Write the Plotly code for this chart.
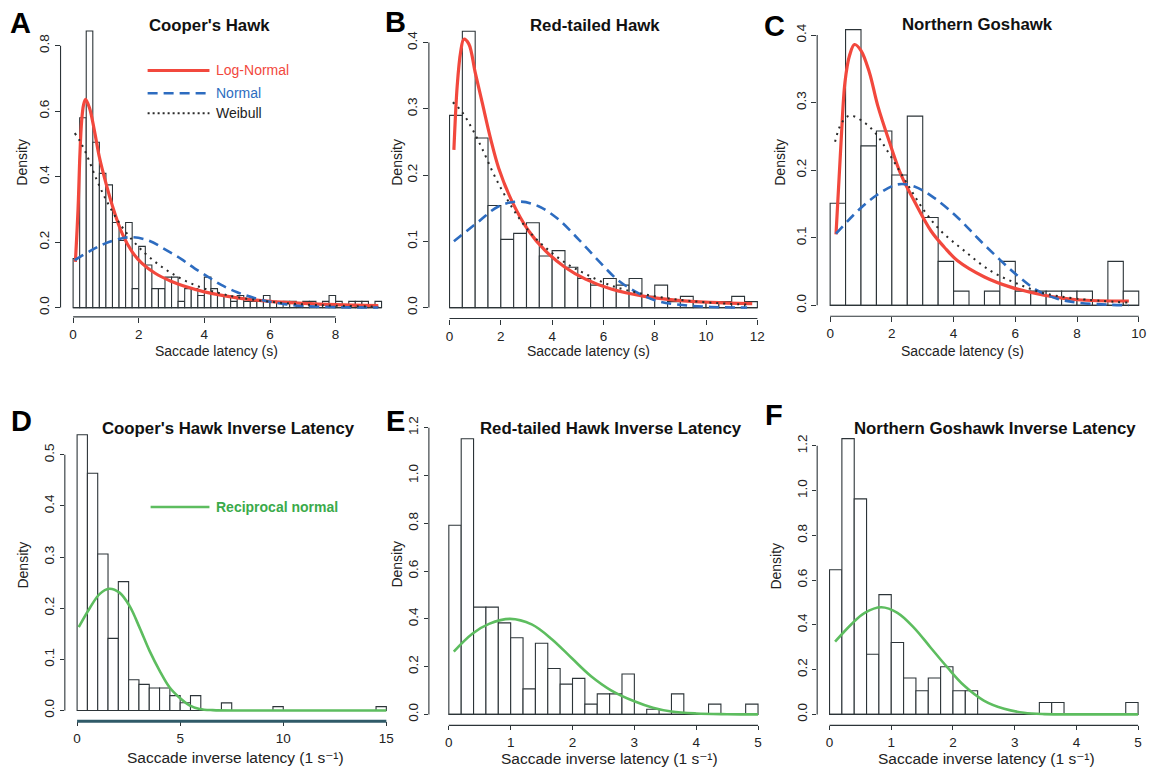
import plotly.graph_objects as go

W, H = 1156, 768

# ------------------------------------------------------------------ data
# Histograms (density per bin, bins start at 0)
coopers_bin_width = 0.2
coopers_density = [0.15, 0.58, 0.845, 0.505, 0.41, 0.375, 0.26, 0.205, 0.26, 0.058,
                   0.187, 0.13, 0.058, 0.058, 0.093, 0.093, 0.019, 0.058, 0.058, 0.037,
                   0.093, 0.058, 0.037, 0.037, 0.019, 0.037, 0.019, 0.019, 0.019, 0.037,
                   0.019, 0.0, 0.019, 0.019, 0.0, 0.019, 0.019, 0.0, 0.019, 0.037,
                   0.019, 0.0, 0.019, 0.019, 0.019, 0.0, 0.019]

redtail_bin_width = 0.5
redtail_density = [0.29, 0.417, 0.256, 0.154, 0.103, 0.112, 0.128, 0.078, 0.086, 0.061,
                   0.044, 0.034, 0.044, 0.034, 0.044, 0.017, 0.034, 0.009, 0.017, 0.009,
                   0.009, 0.009, 0.017, 0.009]

goshawk_bin_width = 0.5
goshawk_density = [0.151, 0.408, 0.236, 0.258, 0.193, 0.28, 0.13, 0.065, 0.021, 0.0,
                   0.021, 0.065, 0.021, 0.021, 0.021, 0.021, 0.021, 0.0, 0.065, 0.021]

coopers_inv_bin_width = 0.5
coopers_inv_density = [0.539, 0.464, 0.306, 0.141, 0.252, 0.06, 0.051, 0.044, 0.044, 0.029,
                       0.015, 0.029, 0.0, 0.0, 0.0148, 0.0, 0.0, 0.0, 0.0, 0.0074,
                       0.0, 0.0, 0.0, 0.0, 0.0, 0.0, 0.0, 0.0, 0.0, 0.0074]

redtail_inv_bin_width = 0.2
redtail_inv_density = [0.792, 1.154, 0.449, 0.449, 0.383, 0.321, 0.107, 0.298, 0.192, 0.127,
                       0.151, 0.043, 0.086, 0.086, 0.169, 0.0, 0.0215, 0.0, 0.086, 0.0,
                       0.0, 0.043, 0.0, 0.0, 0.043]

goshawk_inv_bin_width = 0.2
goshawk_inv_density = [0.646, 1.232, 0.963, 0.269, 0.535, 0.321, 0.163, 0.106, 0.163, 0.213,
                       0.106, 0.106, 0.0, 0.0, 0.0, 0.0, 0.0, 0.053, 0.053, 0.0,
                       0.0, 0.0, 0.0, 0.0, 0.053]

# Fitted curves
coopers_lognorm_x = [0.07, 0.15, 0.2, 0.26, 0.32, 0.38, 0.5, 0.65, 0.8, 1.0, 1.2, 1.5, 1.8, 2.1,
                     2.5, 3.0, 3.5, 4.0, 5.0, 6.0, 7.0, 8.0, 9.3]
coopers_lognorm_y = [0.14, 0.3, 0.45, 0.57, 0.62, 0.636, 0.61, 0.54, 0.46, 0.38, 0.31, 0.225, 0.17,
                     0.135, 0.105, 0.08, 0.062, 0.048, 0.03, 0.019, 0.013, 0.009, 0.006]
coopers_normal_x = [0.05, 0.5, 1.0, 1.5, 1.8, 2.3, 2.8, 3.3, 3.7, 4.1, 4.5, 5.0, 5.5, 6.0, 6.5,
                    7.0, 8.0, 9.3]
coopers_normal_y = [0.145, 0.172, 0.197, 0.212, 0.215, 0.205, 0.178, 0.148, 0.12, 0.095, 0.07,
                    0.047, 0.03, 0.018, 0.01, 0.005, 0.0015, 0.0003]
coopers_weibull_x = [0.05, 0.2, 0.4, 0.7, 1.0, 1.4, 1.8, 2.2, 2.6, 3.0, 3.5, 4.0, 4.5, 5.0, 6.0,
                     7.0, 8.0, 9.3]
coopers_weibull_y = [0.533, 0.51, 0.47, 0.395, 0.33, 0.26, 0.207, 0.165, 0.132, 0.105, 0.078,
                     0.058, 0.043, 0.032, 0.018, 0.01, 0.006, 0.003]

redtail_lognorm_x = [0.17, 0.3, 0.43, 0.56, 0.75, 1.0, 1.27, 1.6, 1.92, 2.44, 3.08, 3.73, 4.5,
                     5.3, 6.3, 7.6, 8.9, 10.2, 11.8]
redtail_lognorm_y = [0.238, 0.335, 0.385, 0.405, 0.398, 0.355, 0.31, 0.255, 0.21, 0.16, 0.116,
                     0.086, 0.061, 0.043, 0.028, 0.017, 0.011, 0.008, 0.006]
redtail_normal_x = [0.17, 1.14, 1.92, 2.7, 3.47, 4.25, 5.03, 5.8, 6.58, 7.36, 8.14, 9.17, 10.2, 11.6]
redtail_normal_y = [0.1, 0.13, 0.153, 0.16, 0.153, 0.133, 0.103, 0.071, 0.041, 0.022, 0.0095,
                    0.0035, 0.001, 0.0001]
redtail_weibull_x = [0.13, 0.49, 0.88, 1.27, 1.79, 2.44, 3.08, 3.73, 4.5, 5.29, 6.32, 7.62, 8.9,
                     10.2, 11.6]
redtail_weibull_y = [0.31, 0.295, 0.27, 0.24, 0.196, 0.151, 0.116, 0.091, 0.068, 0.051, 0.033,
                     0.02, 0.012, 0.0075, 0.0045]

goshawk_lognorm_x = [0.19, 0.36, 0.48, 0.63, 0.79, 1.0, 1.27, 1.54, 1.92, 2.3, 2.73, 3.27, 3.7,
                     4.13, 5.0, 5.85, 6.93, 8.0, 9.68]
goshawk_lognorm_y = [0.105, 0.247, 0.33, 0.37, 0.386, 0.377, 0.345, 0.296, 0.242, 0.193, 0.154,
                     0.11, 0.086, 0.066, 0.042, 0.027, 0.015, 0.0083, 0.0064]
goshawk_normal_x = [0.19, 0.9, 1.54, 2.19, 2.73, 3.37, 4.13, 4.77, 5.42, 6.07, 6.71, 7.36, 8.0,
                    9.0, 9.68]
goshawk_normal_y = [0.106, 0.14, 0.164, 0.179, 0.176, 0.159, 0.13, 0.1, 0.071, 0.044, 0.022,
                    0.0098, 0.004, 0.001, 0.0002]
goshawk_weibull_x = [0.16, 0.36, 0.63, 1.0, 1.43, 1.97, 2.51, 3.05, 3.59, 4.34, 5.2, 6.07, 6.93,
                     8.0, 9.68]
goshawk_weibull_y = [0.242, 0.269, 0.281, 0.274, 0.257, 0.22, 0.179, 0.14, 0.11, 0.081, 0.051,
                     0.032, 0.018, 0.0098, 0.004]

coopers_recip_x = [0.08, 0.61, 1.1, 1.55, 2.07, 2.55, 3.03, 3.52, 4.0, 4.49, 4.97, 5.45, 5.94,
                   6.58, 8.0, 10.0, 12.0, 15.0]
coopers_recip_y = [0.163, 0.2, 0.228, 0.238, 0.23, 0.204, 0.162, 0.116, 0.078, 0.045, 0.025,
                   0.01, 0.003, 0.0006, 0.0, 0.0, 0.0, 0.0]
redtail_recip_x = [0.08, 0.38, 0.65, 0.99, 1.34, 1.67, 1.99, 2.3, 2.63, 3.0, 3.3, 3.6, 4.0, 4.5, 5.0]
redtail_recip_y = [0.263, 0.338, 0.379, 0.4, 0.377, 0.314, 0.235, 0.16, 0.1, 0.055, 0.028, 0.012,
                   0.004, 0.001, 0.0]
goshawk_recip_x = [0.09, 0.35, 0.57, 0.84, 1.1, 1.37, 1.64, 1.91, 2.18, 2.5, 2.83, 3.15, 3.48, 4.0, 5.0]
goshawk_recip_y = [0.325, 0.402, 0.454, 0.479, 0.454, 0.387, 0.298, 0.21, 0.129, 0.062, 0.025,
                   0.0074, 0.0015, 0.0, 0.0]

# Tick labels
x_ticks = {
    "A": [0, 2, 4, 6, 8], "B": [0, 2, 4, 6, 8, 10, 12], "C": [0, 2, 4, 6, 8, 10],
    "D": [0, 5, 10, 15], "E": [0, 1, 2, 3, 4, 5], "F": [0, 1, 2, 3, 4, 5],
}
y_ticks = {
    "A": ["0.0", "0.2", "0.4", "0.6", "0.8"], "B": ["0.0", "0.1", "0.2", "0.3", "0.4"],
    "C": ["0.0", "0.1", "0.2", "0.3", "0.4"],
    "D": ["0.0", "0.1", "0.2", "0.3", "0.4", "0.5"],
    "E": ["0.0", "0.2", "0.4", "0.6", "0.8", "1.0", "1.2"],
    "F": ["0.0", "0.2", "0.4", "0.6", "0.8", "1.0", "1.2"],
}
titles = {
    "A": "Cooper's Hawk", "B": "Red-tailed Hawk", "C": "Northern Goshawk",
    "D": "Cooper's Hawk Inverse Latency", "E": "Red-tailed Hawk Inverse Latency",
    "F": "Northern Goshawk Inverse Latency",
}
xlabel_top = "Saccade latency (s)"
xlabel_bottom = "Saccade inverse latency (1 s⁻¹)"
ylabel = "Density"
legend_top = ["Log-Normal", "Normal", "Weibull"]
legend_bottom = "Reciprocal normal"

# ------------------------------------------------------------------ styles / layout (pixels)
FONT = "Liberation Sans, Arial, Helvetica, DejaVu Sans, sans-serif"
RED = "#f2483d"
BLUE = "#2d6cc0"
DOT = "#2a2a2a"
GREEN = "#5dbd5f"
EDGE = "#2c3438"

# per panel: zero_px, px_per_unit (x), left_px, right_px ; base_px, px_per_unit (y), bottom_px, top_px
geom = {
    "A": dict(x0=73.3, sx=32.9, L=60.7, R=395, y0=304.0, sy=330.0, B=313.3, T=14,
              title=(210, 20), letter=(21, 17), ylab=(22, 157), xlab=(217, 348)),
    "B": dict(x0=450.7, sx=25.72, L=430.0, R=772, y0=304.0, sy=668.0, B=315.0, T=14,
              title=(597, 20), letter=(397, 16), ylab=(398, 157), xlab=(590, 348)),
    "C": dict(x0=832.3, sx=30.94, L=819.3, R=1150, y0=301.7, sy=681.0, B=312.7, T=14,
              title=(980, 19), letter=(777, 20), ylab=(782, 157), xlab=(965, 348)),
    "D": dict(x0=77.3, sx=20.67, L=65.0, R=392, y0=710.0, sy=515.4, B=721.0, T=420,
              title=(229, 426), letter=(22, 418), ylab=(23, 563), xlab=(236, 757)),
    "E": dict(x0=450.0, sx=62.0, L=430.0, R=770, y0=714.0, sy=240.8, B=725.0, T=420,
              title=(613, 426), letter=(397, 418), ylab=(398, 562), xlab=(611, 758)),
    "F": dict(x0=831.7, sx=61.87, L=819.3, R=1150, y0=714.0, sy=225.6, B=725.0, T=420,
              title=(998, 426), letter=(776, 412), ylab=(778, 564), xlab=(989, 758)),
}

hist = {
    "A": (coopers_bin_width, coopers_density),
    "B": (redtail_bin_width, redtail_density),
    "C": (goshawk_bin_width, goshawk_density),
    "D": (coopers_inv_bin_width, coopers_inv_density),
    "E": (redtail_inv_bin_width, redtail_inv_density),
    "F": (goshawk_inv_bin_width, goshawk_inv_density),
}
curves = {
    "A": [(coopers_lognorm_x, coopers_lognorm_y, "ln"), (coopers_normal_x, coopers_normal_y, "n"),
          (coopers_weibull_x, coopers_weibull_y, "w")],
    "B": [(redtail_lognorm_x, redtail_lognorm_y, "ln"), (redtail_normal_x, redtail_normal_y, "n"),
          (redtail_weibull_x, redtail_weibull_y, "w")],
    "C": [(goshawk_lognorm_x, goshawk_lognorm_y, "ln"), (goshawk_normal_x, goshawk_normal_y, "n"),
          (goshawk_weibull_x, goshawk_weibull_y, "w")],
    "D": [(coopers_recip_x, coopers_recip_y, "r")],
    "E": [(redtail_recip_x, redtail_recip_y, "r")],
    "F": [(goshawk_recip_x, goshawk_recip_y, "r")],
}
curve_style = {
    "ln": dict(color=RED, width=3.2),
    "n": dict(color=BLUE, width=2.6, dash="10px,6px"),
    "w": dict(color=DOT, width=2.0, dash="2px,5px"),
    "r": dict(color=GREEN, width=2.6),
}


def px_x(p):
    return p / W


def px_y(p):
    return 1 - p / H


fig = go.Figure()
layout = dict(width=W, height=H, margin=dict(l=0, r=0, t=0, b=0),
              paper_bgcolor="white", plot_bgcolor="rgba(0,0,0,0)",
              showlegend=False, font=dict(family=FONT, color="#111"))
shapes, annotations = [], []

for i, key in enumerate(["A", "B", "C", "D", "E", "F"]):
    g = geom[key]
    n = "" if i == 0 else str(i + 1)
    xa, ya = "x" + n, "y" + n
    bw, dens = hist[key]
    edges = [k * bw for k in range(len(dens) + 1)]
    centers = [(edges[k] + edges[k + 1]) / 2 for k in range(len(dens))]

    fig.add_trace(go.Bar(x=centers, y=dens, width=[bw] * len(dens), base=0,
                         marker=dict(color="white", line=dict(color=EDGE, width=1.1)),
                         xaxis=xa, yaxis=ya))
    fig.add_trace(go.Scatter(x=[edges[0], edges[-1]], y=[0, 0], mode="lines",
                             line=dict(color=EDGE, width=1.1), xaxis=xa, yaxis=ya))
    for cx, cy, kind in curves[key]:
        st = curve_style[kind]
        fig.add_trace(go.Scatter(x=cx, y=cy, mode="lines",
                                 line=dict(shape="spline", smoothing=1.0, **st),
                                 xaxis=xa, yaxis=ya))

    xr = [(g["L"] - g["x0"]) / g["sx"], (g["R"] - g["x0"]) / g["sx"]]
    yr = [-(g["B"] - g["y0"]) / g["sy"], (g["y0"] - g["T"]) / g["sy"]]
    xt = x_ticks[key]
    yt_txt = y_ticks[key]
    yt = [float(t) for t in yt_txt]

    top_row = key in ("A", "B", "C")
    axis_common = dict(showgrid=False, zeroline=False, showline=False, ticks="outside",
                       ticklen=5 if top_row else 4, tickwidth=1, tickcolor=EDGE,
                       tickfont=dict(family=FONT, size=13.5, color="#222"))
    layout["xaxis" + n] = dict(domain=[px_x(g["L"]), px_x(g["R"])], range=xr,
                               anchor=ya, tickvals=xt, ticktext=[str(t) for t in xt],
                               **axis_common)
    layout["yaxis" + n] = dict(domain=[px_y(g["B"]), px_y(g["T"])], range=yr,
                               anchor=xa, tickvals=yt, ticktext=yt_txt, tickangle=-90,
                               **axis_common)

    xline_w = 3 if key == "D" else 1.1
    xline_c = "#2f5a68" if key == "D" else EDGE
    shapes.append(dict(type="line", xref=xa, yref=ya + " domain", x0=xt[0], x1=xt[-1],
                       y0=0, y1=0, line=dict(color=xline_c, width=xline_w)))
    shapes.append(dict(type="line", xref=xa + " domain", yref=ya, x0=0, x1=0,
                       y0=yt[0], y1=yt[-1], line=dict(color=EDGE, width=1.1)))

    tx, ty = g["title"]
    annotations.append(dict(text="<b>" + titles[key] + "</b>", x=px_x(tx), y=px_y(ty),
                            xref="paper", yref="paper", showarrow=False,
                            xanchor="center", yanchor="middle",
                            font=dict(family=FONT, size=16.8, color="#111")))
    lx, ly = g["letter"]
    annotations.append(dict(text="<b>" + key + "</b>", x=px_x(lx), y=px_y(ly),
                            xref="paper", yref="paper", showarrow=False,
                            xanchor="center", yanchor="middle",
                            font=dict(family=FONT, size=29, color="#000")))
    yx, yy = g["ylab"]
    annotations.append(dict(text=ylabel, x=px_x(yx), y=px_y(yy), xref="paper", yref="paper",
                            showarrow=False, textangle=-90, xanchor="center", yanchor="middle",
                            font=dict(family=FONT, size=14, color="#222")))
    xx, xy = g["xlab"]
    annotations.append(dict(text=xlabel_top if top_row else xlabel_bottom,
                            x=px_x(xx), y=px_y(xy), xref="paper", yref="paper",
                            showarrow=False, xanchor="center", yanchor="middle",
                            font=dict(family=FONT, size=14 if top_row else 15.5, color="#222")))

# legend in panel A
leg_rows = [(65, RED, None, 3.2), (88, BLUE, "10px,6px", 2.6), (108, DOT, "2px,3px", 2.0)]
leg_colors = [RED, BLUE, "#222"]
for (yy, col, dash, wd), label, tc in zip(leg_rows, legend_top, leg_colors):
    ln = dict(color=col, width=wd)
    if dash:
        ln["dash"] = dash
    shapes.append(dict(type="line", xref="paper", yref="paper", x0=px_x(148), x1=px_x(210),
                       y0=px_y(yy), y1=px_y(yy), line=ln))
    annotations.append(dict(text=label, x=px_x(215), y=px_y(yy), xref="paper", yref="paper",
                            showarrow=False, xanchor="left", yanchor="middle",
                            font=dict(family=FONT, size=14, color=tc)))

# legend in panel D
shapes.append(dict(type="line", xref="paper", yref="paper", x0=px_x(151), x1=px_x(210),
                   y0=px_y(505), y1=px_y(505), line=dict(color=GREEN, width=2.6)))
annotations.append(dict(text="<b>" + legend_bottom + "</b>", x=px_x(215), y=px_y(505),
                        xref="paper", yref="paper", showarrow=False, xanchor="left",
                        yanchor="middle", font=dict(family=FONT, size=14, color="#3aaa4a")))

layout["shapes"] = shapes
layout["annotations"] = annotations
fig.update_layout(**layout)
fig.write_html("out.html", config={"displayModeBar": False},
               post_script="document.body.style.margin='0';document.body.style.overflow='hidden';")
